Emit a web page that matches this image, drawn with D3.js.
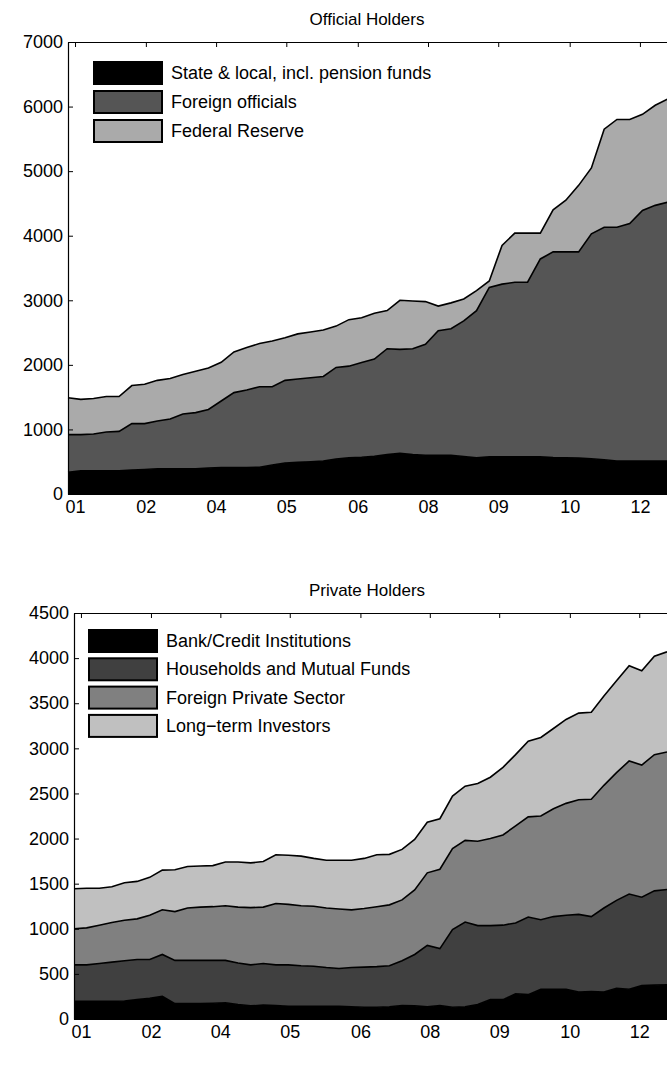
<!DOCTYPE html>
<html><head><meta charset="utf-8">
<script src="https://cdn.jsdelivr.net/npm/d3@7"></script>
<style>body{margin:0;background:#fff}svg{font-family:"Liberation Sans",Arial,sans-serif}</style>
</head><body>
<svg id="c" width="667" height="1076"></svg>
<script>
// quarterly 2001Q1..2012Q4, cumulative levels
const tickIdx = [0.55, 6.1, 11.6, 17.1, 22.7, 28.2, 33.7, 39.3, 44.8];
const tickLabels = ["01","02","04","05","06","08","09","10","12"];

const officialNames = ["State & local, incl. pension funds", "Foreign officials", "Federal Reserve"];
const officialColors = ["#000", "#555", "#aaa"];
const stateLocalTop = [335,360,360,360,360,370,380,390,390,390,390,400,410,410,410,415,450,480,490,500,510,540,560,570,585,610,630,610,600,600,600,580,560,575,575,575,575,575,565,560,555,545,530,510,510,510,510,510];
const foreignOffTop = [920,920,930,960,970,1090,1090,1130,1160,1240,1260,1310,1440,1570,1610,1660,1660,1760,1780,1800,1820,1960,1980,2035,2090,2250,2240,2250,2320,2530,2560,2680,2840,3200,3250,3280,3280,3640,3750,3750,3750,4030,4130,4130,4190,4390,4470,4520];
const fedReserveTop = [1490,1465,1480,1510,1510,1680,1700,1760,1790,1850,1900,1950,2040,2200,2270,2330,2370,2420,2480,2510,2540,2600,2700,2730,2800,2840,3000,2990,2980,2910,2960,3020,3150,3300,3850,4040,4040,4040,4400,4550,4780,5050,5650,5800,5800,5880,6020,6120];

const privateNames = ["Bank/Credit Institutions", "Households and Mutual Funds", "Foreign Private Sector", "Long\u2212term Investors"];
const privateColors = ["#000", "#404040", "#808080", "#c0c0c0"];
const bankTop = [195,195,195,195,200,215,230,250,170,170,170,175,180,160,145,155,150,140,140,140,140,140,135,130,130,135,150,145,135,150,130,135,160,215,215,280,270,330,330,330,300,305,300,340,330,370,375,380];
const householdsTop = [600,600,615,630,645,660,660,715,650,650,650,650,650,620,600,615,600,600,590,585,570,560,570,575,580,590,645,715,815,780,990,1075,1035,1035,1040,1065,1130,1100,1135,1150,1160,1135,1230,1315,1385,1350,1420,1435];
const foreignPrivTop = [1000,1010,1040,1070,1095,1110,1150,1210,1190,1230,1240,1245,1255,1240,1235,1240,1280,1270,1255,1250,1230,1220,1210,1225,1245,1265,1320,1430,1620,1660,1890,1980,1970,2000,2040,2140,2240,2250,2330,2390,2430,2435,2590,2730,2860,2815,2930,2960];
const longTermTop = [1443,1450,1450,1465,1510,1525,1570,1650,1655,1690,1695,1700,1740,1740,1730,1745,1820,1815,1805,1780,1760,1760,1760,1780,1820,1825,1880,1990,2180,2220,2470,2580,2610,2680,2790,2930,3080,3120,3220,3320,3390,3400,3580,3750,3915,3860,4020,4070];

const svg = d3.select("#c");

function panel(o) {
  const g = svg.append("g");
  const x = d3.scaleLinear().domain([0, 47]).range([o.left, o.right]);
  const y = d3.scaleLinear().domain([0, o.ymax]).range([o.bottom, o.top]);
  const layers = o.tops.map((t, k) => t.map((v, i) => [k ? o.tops[k-1][i] : 0, v]));
  layers.forEach((l, k) => {
    g.append("path").datum(l)
      .attr("d", d3.area().x((d, i) => x(i)).y0(d => y(d[0])).y1(d => y(d[1])))
      .attr("fill", o.colors[k]);
  });
  layers.forEach(l => {
    g.append("path").datum(l)
      .attr("d", d3.line().x((d, i) => x(i)).y(d => y(d[1])))
      .attr("fill", "none").attr("stroke", "#000").attr("stroke-width", 1.6);
  });
  const ya = g.append("g").attr("transform", `translate(${o.left},0)`)
    .call(d3.axisLeft(y).tickValues(d3.range(0, o.ymax + 1, o.ystep)).tickFormat(d3.format("d"))
      .tickSizeInner(-5).tickSizeOuter(0).tickPadding(5));
  const xa = g.append("g").attr("transform", `translate(0,${o.bottom})`)
    .call(d3.axisBottom(x).tickValues(tickIdx).tickFormat((d, i) => tickLabels[i]).tickSizeInner(-5).tickSizeOuter(0).tickPadding(6));
  const xt = g.append("g").attr("transform", `translate(0,${o.top})`)
    .call(d3.axisTop(x).tickValues(tickIdx).tickFormat("").tickSizeInner(-5).tickSizeOuter(0));
  [ya, xa, xt].forEach(a => {
    a.attr("font-size", 18).attr("font-family", "Liberation Sans, Arial");
    a.selectAll("path").attr("stroke", "#000").attr("stroke-width", 1.2);
    a.selectAll("line").attr("stroke", "#000");
    a.selectAll("text").attr("fill", "#000");
  });
  g.append("text").attr("x", 367).attr("y", o.top - 17).attr("text-anchor", "middle")
    .attr("font-size", 17).text(o.title);
  o.names.forEach((n, k) => {
    const yy = o.legY + k * o.legStep;
    g.append("rect").attr("x", o.legX).attr("y", yy).attr("width", 68).attr("height", 22)
      .attr("fill", o.colors[k]).attr("stroke", "#000").attr("stroke-width", 2);
    g.append("text").attr("x", o.legX + 77).attr("y", yy + 17).attr("font-size", 18).text(n);
  });
}

panel({title: "Official Holders", left: 68, right: 668, top: 42, bottom: 494, ymax: 7000, ystep: 1000,
  tops: [stateLocalTop, foreignOffTop, fedReserveTop], colors: officialColors, names: officialNames,
  legX: 94, legY: 62, legStep: 29});
panel({title: "Private Holders", left: 74, right: 667, top: 613, bottom: 1019, ymax: 4500, ystep: 500,
  tops: [bankTop, householdsTop, foreignPrivTop, longTermTop], colors: privateColors, names: privateNames,
  legX: 89, legY: 630, legStep: 28.3});
</script>
</body></html>
